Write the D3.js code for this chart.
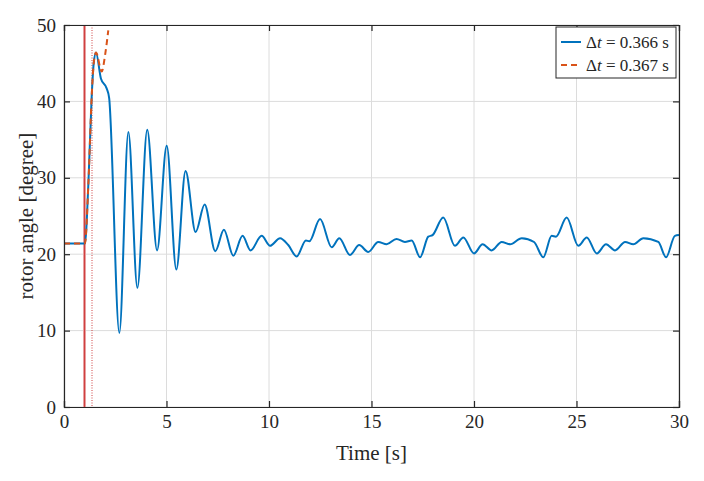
<!DOCTYPE html>
<html><head><meta charset="utf-8">
<script src="https://cdn.jsdelivr.net/npm/d3@7"></script>
<style>body{margin:0;background:#fff}text{font-family:"Liberation Serif",serif}</style>
</head><body><svg id="c" width="704" height="481"></svg>
<script>
// key points: time [s], rotor angle [deg]
var tA = [0,0.5,1.02,1.19,1.35,1.45,1.56,1.8,2.08,2.2,2.7,3.14,3.58,4.06,4.54,5.01,5.48,5.93,6.42,6.86,7.38,7.8,8.26,8.71,9.1,9.64,10.05,10.54,10.94,11.35,11.8,11.97,12.49,13.06,13.43,13.95,14.4,14.84,15.33,15.74,16.22,16.63,16.96,17.37,17.77,17.98,18.5,19.07,19.48,20.0,20.42,20.86,21.35,21.76,22.33,22.93,23.38,23.79,24.0,24.52,25.09,25.5,25.99,26.44,26.88,27.37,27.77,28.26,28.99,29.37,29.8,30];
var angA = [21.4,21.4,21.4,29.3,40.6,45,46.4,43,41.7,40.5,9.7,36.0,15.6,36.3,20.5,34.2,18.0,30.9,22.9,26.5,20.4,23.2,19.8,22.4,20.5,22.4,21.1,22.1,21.2,19.7,21.8,21.7,24.6,20.9,22.1,19.9,21.2,20.3,21.6,21.3,22.0,21.6,21.8,19.6,22.3,22.5,24.8,21.1,22.2,20.1,21.3,20.5,21.6,21.3,22.1,21.6,19.6,22.4,22.3,24.8,21.1,22.2,20.1,21.3,20.5,21.6,21.3,22.1,21.6,19.6,22.4,22.5];
var tB = [0,0.5,1.02,1.19,1.35,1.45,1.56,1.84,2.0,2.16];
var angB = [21.4,21.4,21.4,29.3,40.6,45,46.4,43.9,46,49.3];
var faultT = [1.0, 1.366];
var xTicks = [0,5,10,15,20,25,30], yTicks = [0,10,20,30,40,50];

var svg = d3.select("#c");
var m = {l:64, r:679, t:25, b:407};
var x = d3.scaleLinear().domain([0,30]).range([m.l,m.r]);
var y = d3.scaleLinear().domain([0,50]).range([m.b,m.t]);

// grid
svg.append("g").selectAll("line").data(xTicks).join("line")
  .attr("x1",x).attr("x2",x).attr("y1",m.t).attr("y2",m.b).attr("stroke","#dcdcdc");
svg.append("g").selectAll("line").data(yTicks).join("line")
  .attr("y1",y).attr("y2",y).attr("x1",m.l).attr("x2",m.r).attr("stroke","#dcdcdc");

// fault lines
svg.append("line").attr("x1",x(faultT[0])).attr("x2",x(faultT[0])).attr("y1",m.t).attr("y2",m.b)
  .attr("stroke","#e8a0a0").attr("stroke-width",3);
svg.append("line").attr("x1",x(faultT[0])).attr("x2",x(faultT[0])).attr("y1",m.t).attr("y2",m.b)
  .attr("stroke","#d04040").attr("stroke-width",1);
svg.append("line").attr("x1",x(faultT[1])).attr("x2",x(faultT[1])).attr("y1",m.t).attr("y2",m.b)
  .attr("stroke","#d04040").attr("stroke-width",1).attr("stroke-dasharray","1,1.5");

svg.append("clipPath").attr("id","clp").append("rect")
  .attr("x",m.l).attr("y",m.t).attr("width",m.r-m.l).attr("height",m.b-m.t);
var line = d3.line().x(d=>x(d[0])).y(d=>y(d[1])).curve(d3.curveMonotoneX);
svg.append("path").attr("clip-path","url(#clp)").attr("d",line(d3.zip(tA,angA)))
  .attr("fill","none").attr("stroke","#0072BD").attr("stroke-width",2);
svg.append("path").attr("clip-path","url(#clp)").attr("d",line(d3.zip(tB,angB)))
  .attr("fill","none").attr("stroke","#D95319").attr("stroke-width",2).attr("stroke-dasharray","6,4");

// axes
svg.append("g").attr("transform","translate(0,"+m.b+")")
  .call(d3.axisBottom(x).tickValues(xTicks).tickSize(-6).tickPadding(8));
svg.append("g").attr("transform","translate("+m.l+",0)")
  .call(d3.axisLeft(y).tickValues(yTicks).tickSize(-6).tickPadding(8));
svg.append("g").attr("transform","translate(0,"+m.t+")")
  .call(d3.axisTop(x).tickValues(xTicks).tickSize(-6).tickFormat(""));
svg.append("g").attr("transform","translate("+m.r+",0)")
  .call(d3.axisRight(y).tickValues(yTicks).tickSize(-6).tickFormat(""));
svg.selectAll(".domain,.tick line").attr("stroke","#262626").attr("stroke-width",1.2);
svg.selectAll(".tick text").attr("font-size",19).attr("fill","#262626").style("font-family","Liberation Serif");

svg.append("text").attr("x",(m.l+m.r)/2).attr("y",460).attr("text-anchor","middle")
  .attr("font-size",21).attr("fill","#262626").text("Time [s]");
svg.append("text").attr("transform","translate(33,"+((m.t+m.b)/2)+") rotate(-90)")
  .attr("text-anchor","middle").attr("font-size",21).attr("fill","#262626").text("rotor angle [degree]");

// legend
var lg = svg.append("g");
lg.append("rect").attr("x",556).attr("y",27).attr("width",120).attr("height",51)
  .attr("fill","#fff").attr("stroke","#262626");
[["0.366","#0072BD",null],["0.367","#D95319","6,4"]].forEach(function(d,i){
  var yy = 42 + i*23;
  lg.append("line").attr("x1",561).attr("x2",581).attr("y1",yy).attr("y2",yy)
    .attr("stroke",d[1]).attr("stroke-width",2).attr("stroke-dasharray",d[2]);
  var t = lg.append("text").attr("x",586).attr("y",yy+6).attr("font-size",17).attr("fill","#262626");
  t.append("tspan").text("Δ");
  t.append("tspan").attr("font-style","italic").text("t");
  t.append("tspan").text(" = " + d[0] + "  s");
});
</script></body></html>
